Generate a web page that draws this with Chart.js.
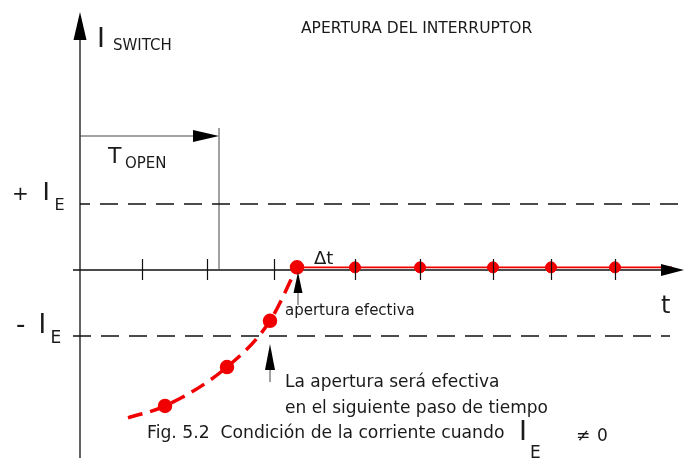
<!DOCTYPE html>
<html>
<head>
<meta charset="utf-8">
<script src="https://cdn.jsdelivr.net/npm/chart.js"></script>
<style>body{margin:0;background:#fff}</style>
</head>
<body>
<canvas id="switchChart" width="684" height="473"></canvas>
<script>
// time in arbitrary steps, current in units of I_E
var stepTimes = [8.5, 14.7, 19.0, 21.7, 27.5, 34.0, 41.3, 47.1, 53.5];
var stepCurrent = [-2.06, -1.47, -0.77, 0.04, 0.04, 0.04, 0.04, 0.04, 0.04];
var curveStart = [4.8, -2.24];
var tickTimes = [6.2, 12.7, 19.4, 27.5, 34.0, 41.3, 47.1, 53.5];
var openTime = 13.9;
var limitIE = 1;
var lineEnd = 59.2;

var curvePts = [{x: curveStart[0], y: curveStart[1]}];
for (var i = 0; i < 4; i++) curvePts.push({x: stepTimes[i], y: stepCurrent[i]});
var flatPts = [];
for (var i = 4; i < stepTimes.length; i++) flatPts.push({x: stepTimes[i], y: stepCurrent[i]});

var red = "#f00000";
var ink = "#111";

function arrowHead(ctx, x, y, dir, len, half) {
  // dir: "up" or "right", (x,y) is the tip
  ctx.beginPath();
  ctx.moveTo(x, y);
  if (dir == "up") {
    ctx.lineTo(x - half, y + len);
    ctx.lineTo(x + half, y + len);
  } else {
    ctx.lineTo(x - len, y - half);
    ctx.lineTo(x - len, y + half);
  }
  ctx.closePath();
  ctx.fill();
}

function txt(ctx, s, x, y, size) {
  ctx.font = size + "px 'DejaVu Sans'";
  ctx.fillText(s, x, y);
}

var sketch = {
  id: "sketch",
  beforeDatasetsDraw: function(chart) {
    var ctx = chart.ctx, xs = chart.scales.x, ys = chart.scales.y;
    var x0 = xs.getPixelForValue(0), y0 = ys.getPixelForValue(0);
    ctx.save();
    ctx.strokeStyle = ink;
    ctx.lineWidth = 1.3;
    ctx.beginPath();
    ctx.moveTo(x0, 458); ctx.lineTo(x0, 30);
    ctx.moveTo(x0 - 7, y0); ctx.lineTo(670, y0);
    ctx.stroke();
    // T_open marker
    var xo = xs.getPixelForValue(openTime);
    ctx.lineWidth = 1;
    ctx.strokeStyle = "#444";
    ctx.beginPath();
    ctx.moveTo(x0, 136); ctx.lineTo(xo - 10, 136);
    ctx.moveTo(xo, 128); ctx.lineTo(xo, y0);
    ctx.stroke();
    ctx.restore();
  },
  afterDatasetsDraw: function(chart) {
    var ctx = chart.ctx, xs = chart.scales.x, ys = chart.scales.y;
    var x0 = xs.getPixelForValue(0), y0 = ys.getPixelForValue(0);
    ctx.save();
    ctx.strokeStyle = ink;
    ctx.fillStyle = "#000";
    ctx.lineWidth = 1.2;
    ctx.beginPath();
    tickTimes.forEach(function(t) {
      var px = Math.round(xs.getPixelForValue(t)) + 0.5;
      ctx.moveTo(px, y0 - 11); ctx.lineTo(px, y0 + 10);
    });
    ctx.stroke();
    arrowHead(ctx, x0, 12, "up", 28, 6.5);
    arrowHead(ctx, 684, y0, "right", 23, 6);
    arrowHead(ctx, xs.getPixelForValue(openTime), 136, "right", 26, 6);

    // effective opening arrows
    var xa = xs.getPixelForValue(stepTimes[3]) + 1;
    ctx.lineWidth = 1;
    ctx.strokeStyle = "#444";
    ctx.beginPath();
    ctx.moveTo(xa, 290); ctx.lineTo(xa, 305);
    ctx.stroke();
    arrowHead(ctx, xa, 272, "up", 21, 4.5);
    var xb = xs.getPixelForValue(stepTimes[2]);
    ctx.beginPath();
    ctx.moveTo(xb, 366); ctx.lineTo(xb, 382);
    ctx.stroke();
    arrowHead(ctx, xb, 344, "up", 26, 5);

    ctx.fillStyle = "#1a1a1a";
    ctx.textBaseline = "alphabetic";
    txt(ctx, "APERTURA DEL INTERRUPTOR", 301, 33, 15.5);
    txt(ctx, "I", 97, 47, 27);
    txt(ctx, "SWITCH", 113, 50, 15);
    txt(ctx, "T", 108, 163, 22);
    txt(ctx, "OPEN", 125, 168, 15);
    txt(ctx, "+", 12, 200, 20);
    txt(ctx, "I", 42.5, 200, 25);
    txt(ctx, "E", 54.5, 210, 16);
    txt(ctx, "-", 16, 333, 26);
    txt(ctx, "I", 38.5, 333, 26);
    txt(ctx, "E", 50.5, 343, 17);
    txt(ctx, "\u0394t", 314, 264, 18);
    txt(ctx, "t", 661, 313, 24);
    txt(ctx, "apertura efectiva", 285, 315, 15);
    txt(ctx, "La apertura ser\u00e1 efectiva", 285, 387, 17);
    txt(ctx, "en el siguiente paso de tiempo", 285, 413, 17);
    txt(ctx, "Fig. 5.2  Condici\u00f3n de la corriente cuando", 147, 438, 17.2);
    txt(ctx, "I", 519, 440, 27);
    txt(ctx, "E", 530, 458, 17);
    txt(ctx, "\u2260", 576, 441, 17);
    txt(ctx, "0", 597, 441, 17);
    ctx.restore();
  }
};

new Chart("switchChart", {
  type: "scatter",
  data: {
    datasets: [
      {
        data: [{x: 0, y: limitIE}, {x: 60, y: limitIE}],
        showLine: true, borderColor: ink, borderWidth: 1.3,
        borderDash: [18, 10], borderDashOffset: 8, pointRadius: 0
      },
      {
        data: [{x: -0.7, y: -limitIE}, {x: 59, y: -limitIE}],
        showLine: true, borderColor: ink, borderWidth: 1.3,
        borderDash: [18, 10], pointRadius: 0
      },
      {
        data: [{x: stepTimes[3], y: stepCurrent[3]}, {x: lineEnd, y: stepCurrent[3]}],
        showLine: true, borderColor: red, borderWidth: 1.6, pointRadius: 0
      },
      {
        data: curvePts,
        showLine: true, borderColor: red, borderWidth: 3.5,
        borderDash: [15, 8], cubicInterpolationMode: "monotone",
        pointRadius: [0, 5.5, 5.5, 5.5, 5.5],
        pointBackgroundColor: red, pointBorderColor: red
      },
      {
        data: flatPts,
        showLine: false, pointRadius: 5.5,
        pointBackgroundColor: red, pointBorderColor: red
      }
    ]
  },
  options: {
    responsive: false,
    animation: false,
    layout: {padding: 0, autoPadding: false},
    plugins: {legend: {display: false}, tooltip: {enabled: false}, title: {display: false}},
    scales: {
      x: {type: "linear", min: -8, max: 60.4, display: false},
      y: {type: "linear", min: -3.0758, max: 4.0909, display: false}
    }
  },
  plugins: [sketch]
});
</script>
</body>
</html>
